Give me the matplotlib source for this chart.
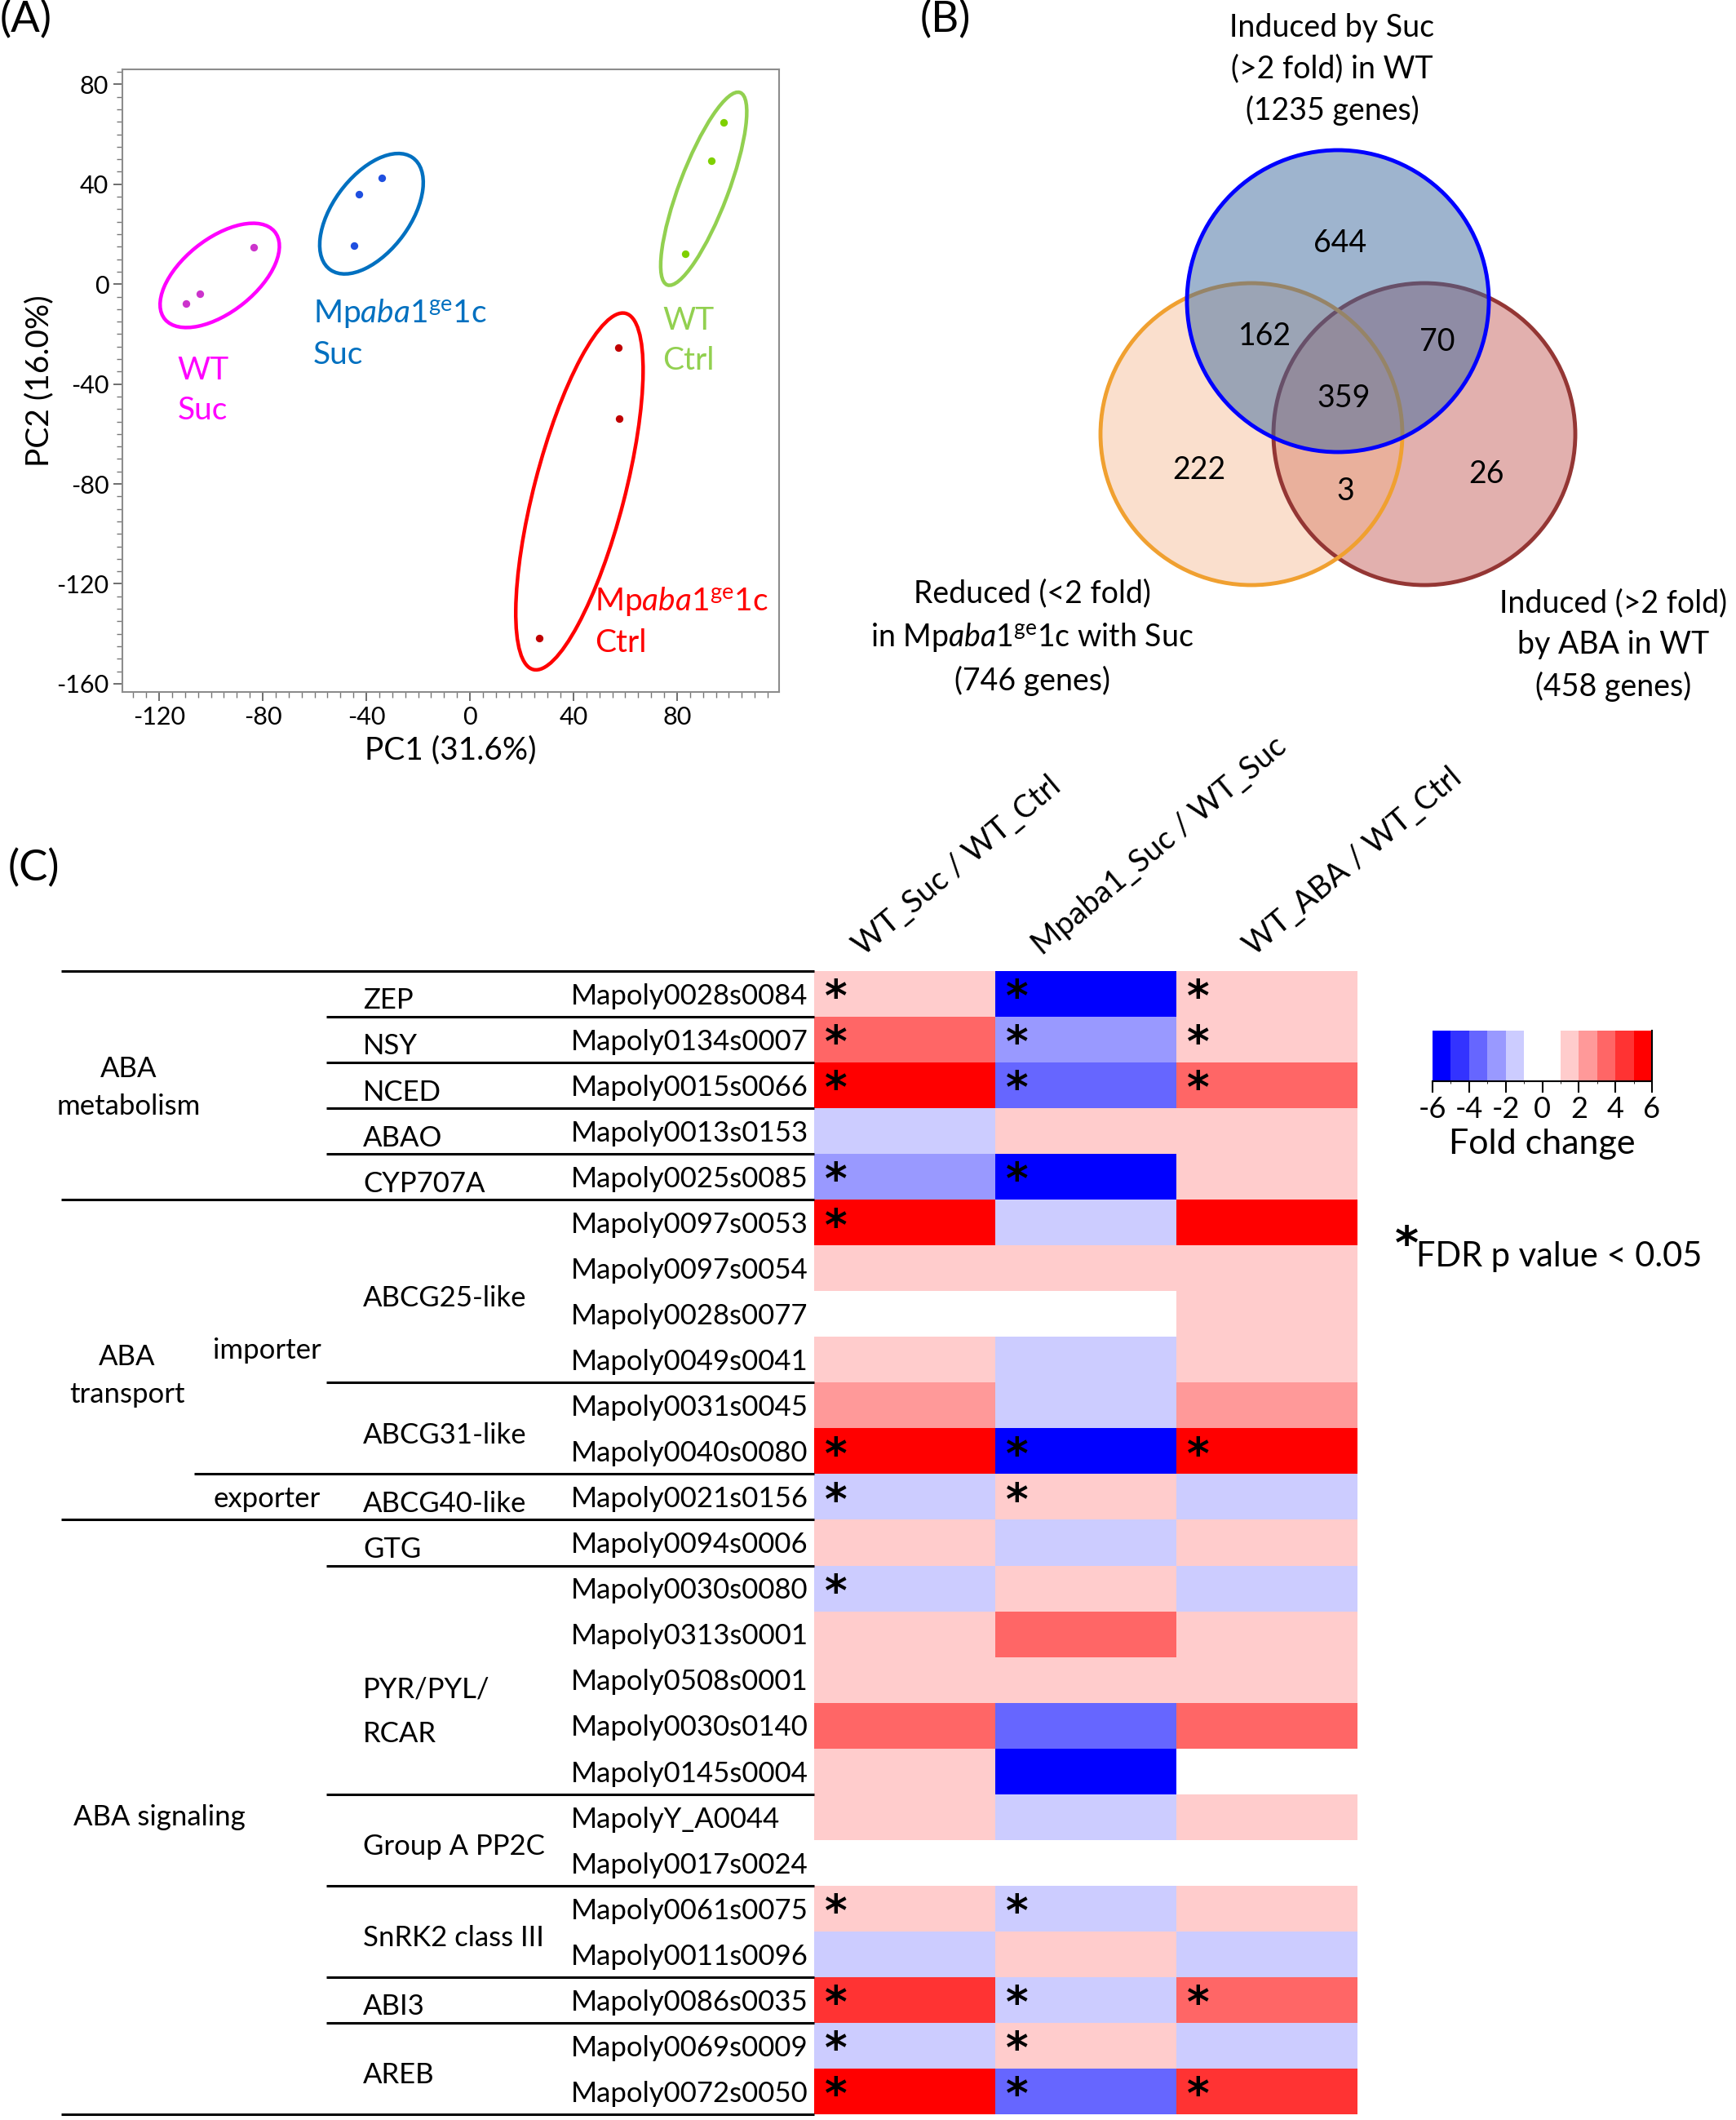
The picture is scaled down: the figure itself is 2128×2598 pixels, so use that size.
import numpy as np
import matplotlib as mpl
import matplotlib.pyplot as plt
from matplotlib.patches import Ellipse, Circle
from matplotlib.colors import ListedColormap, BoundaryNorm
from matplotlib.ticker import MultipleLocator

plt.rcParams['font.family'] = ['Lato', 'DejaVu Sans']
plt.rcParams['mathtext.fontset'] = 'custom'
plt.rcParams['mathtext.rm'] = 'Lato'
plt.rcParams['mathtext.it'] = 'Lato:italic'
plt.rcParams['mathtext.bf'] = 'Lato:bold'
plt.rcParams['axes.unicode_minus'] = False

W, H = 2128, 2598
MP = r'Mp$\mathit{aba1}^{\mathrm{ge}}$1c'

# ---------------- (A) PCA data ----------------
pc1 = [[-109.5, -104.3, -83.5],    # WT Suc
       [-42.8, -34.1, -44.8],      # Mpaba1 Suc
       [98.1, 93.1, 83.2],         # WT Ctrl
       [57.4, 57.8, 26.8]]         # Mpaba1 Ctrl
pc2 = [[-7.9, -3.9, 14.7],
       [35.9, 42.6, 15.3],
       [64.9, 49.3, 12.3],
       [-25.5, -54.0, -141.6]]
ell_center = [(-96.6, 3.5), (-38.0, 28.2), (90.3, 38.2), (42.3, -83.0)]
ell_width = [55, 55, 82, 147]
ell_height = [29, 30, 19, 35]
ell_angle = [40, 55, 70, 76]
group_labels = ['WT\nSuc', MP + '\nSuc', 'WT\nCtrl', MP + '\nCtrl']
label_xy = [(-112.9, -42.5), (-60.5, -19.6), (74.5, -22.7), (48.3, -135.0)]
line_colors = ['#FF00FF', '#0070C0', '#92D050', '#FF0000']
dot_colors = ['#CC33CC', '#1F4FE0', '#7FD000', '#C00000']

# ---------------- (B) Venn data ----------------
venn_counts = [644, 162, 70, 359, 222, 3, 26]
venn_xy = [(1643, 298), (1551, 412), (1762, 419), (1647, 488),
           (1470, 576), (1649, 602), (1822, 581)]
set_labels = ['Induced by Suc\n(>2 fold) in WT\n(1235 genes)',
              'Reduced (<2 fold)\nin ' + MP + ' with Suc\n(746 genes)',
              'Induced (>2 fold)\nby ABA in WT\n(458 genes)']

# ---------------- (C) heatmap data ----------------
comparisons = ['WT_Suc / WT_Ctrl', 'Mpaba1_Suc / WT_Suc', 'WT_ABA / WT_Ctrl']
genes = ['Mapoly0028s0084', 'Mapoly0134s0007', 'Mapoly0015s0066', 'Mapoly0013s0153',
         'Mapoly0025s0085', 'Mapoly0097s0053', 'Mapoly0097s0054', 'Mapoly0028s0077',
         'Mapoly0049s0041', 'Mapoly0031s0045', 'Mapoly0040s0080', 'Mapoly0021s0156',
         'Mapoly0094s0006', 'Mapoly0030s0080', 'Mapoly0313s0001', 'Mapoly0508s0001',
         'Mapoly0030s0140', 'Mapoly0145s0004', 'MapolyY_A0044', 'Mapoly0017s0024',
         'Mapoly0061s0075', 'Mapoly0011s0096', 'Mapoly0086s0035', 'Mapoly0069s0009',
         'Mapoly0072s0050']
fold = np.array([
    [1.5, -5.5, 1.5], [3.5, -2.5, 1.5], [5.5, -3.5, 3.5], [-1.5, 1.5, 1.5],
    [-2.5, -5.5, 1.5], [5.5, -1.5, 5.5], [1.5, 1.5, 1.5], [0, 0, 1.5],
    [1.5, -1.5, 1.5], [2.5, -1.5, 2.5], [5.5, -5.5, 5.5], [-1.5, 1.5, -1.5],
    [1.5, -1.5, 1.5], [-1.5, 1.5, -1.5], [1.5, 3.5, 1.5], [1.5, 1.5, 1.5],
    [3.5, -3.5, 3.5], [1.5, -5.5, 0], [1.5, -1.5, 1.5], [0, 0, 0],
    [1.5, -1.5, 1.5], [-1.5, 1.5, -1.5], [4.5, -1.5, 3.5], [-1.5, 1.5, -1.5],
    [5.5, -3.5, 4.5]])
signif = np.array([
    [1, 1, 1], [1, 1, 1], [1, 1, 1], [0, 0, 0], [1, 1, 0], [1, 0, 0], [0, 0, 0],
    [0, 0, 0], [0, 0, 0], [0, 0, 0], [1, 1, 1], [1, 1, 0], [0, 0, 0], [1, 0, 0],
    [0, 0, 0], [0, 0, 0], [0, 0, 0], [0, 0, 0], [0, 0, 0], [0, 0, 0], [1, 1, 0],
    [0, 0, 0], [1, 1, 1], [1, 1, 0], [1, 1, 1]])
families = ['ZEP', 'NSY', 'NCED', 'ABAO', 'CYP707A', 'ABCG25-like', 'ABCG31-like',
            'ABCG40-like', 'GTG', 'PYR/PYL/\nRCAR', 'Group A PP2C', 'SnRK2 class III',
            'ABI3', 'AREB']
family_sizes = [1, 1, 1, 1, 1, 4, 2, 1, 1, 5, 2, 2, 1, 2]
subgroups = ['importer', 'exporter']
subgroup_rows = [(5, 11), (11, 12)]
categories = ['ABA\nmetabolism', 'ABA\ntransport', 'ABA signaling']
category_rows = [(0, 5), (5, 12), (12, 25)]
level_bounds = [-6, -5, -4, -3, -2, -1, 1, 2, 3, 4, 5, 6]
level_colors = ['#0000FF', '#3333FF', '#6666FF', '#9999FF', '#CCCCFF', '#FFFFFF',
                '#FFCCCC', '#FF9999', '#FF6666', '#FF3333', '#FF0000']

fig = plt.figure(figsize=(W / 100, H / 100), dpi=100)


def fax(x0, y0, x1, y1):
    # axes from pixel box (top-left origin)
    return fig.add_axes([x0 / W, 1 - y1 / H, (x1 - x0) / W, (y1 - y0) / H])


# ---------------- (A) ----------------
ax = fax(150, 85, 955, 848)
for i in range(4):
    ax.add_patch(Ellipse(ell_center[i], ell_width[i], ell_height[i], angle=ell_angle[i],
                         fill=False, ec=line_colors[i], lw=3.2))
    ax.scatter(pc1[i], pc2[i], s=45, color=dot_colors[i], zorder=3, lw=0)
    ax.text(label_xy[i][0], label_xy[i][1], group_labels[i], color=line_colors[i],
            fontsize=28, ha='left', va='center', linespacing=1.45)
ax.set_xlim(-134.2, 119.4)
ax.set_ylim(-163.3, 86)
ax.set_xticks(range(-120, 81, 40))
ax.set_yticks(range(-160, 81, 40))
ax.xaxis.set_minor_locator(MultipleLocator(5))
ax.yaxis.set_minor_locator(MultipleLocator(5))
ax.tick_params(which='major', direction='out', length=8, width=1.2, color='#555555',
               labelsize=22, pad=4)
ax.tick_params(which='minor', direction='out', length=5, width=1, color='#777777')
for s in ax.spines.values():
    s.set_color('#8C8C8C')
    s.set_linewidth(1.5)
ax.set_xlabel('PC1 (31.6%)', fontsize=28, labelpad=6)
ax.set_ylabel('PC2 (16.0%)', fontsize=28, labelpad=2)

# ---------------- (B) ----------------
vx = fax(1000, 0, 2128, 900)
vx.set_xlim(1000, 2128)
vx.set_ylim(900, 0)
vx.axis('off')
vx.add_patch(Circle((1746, 532), 185, fc='#C0504D', alpha=0.45, lw=0))
vx.add_patch(Circle((1534, 532), 185, fc='#F4B183', alpha=0.4, lw=0))
vx.add_patch(Circle((1746, 532), 185, fill=False, ec='#943634', lw=3.5))
vx.add_patch(Circle((1534, 532), 185, fill=False, ec='#F0A030', lw=3.5))
vx.add_patch(Circle((1640, 369), 185, fc='#3E6A9E', alpha=0.5, lw=0))
vx.add_patch(Circle((1640, 369), 185, fill=False, ec='#0000FF', lw=3.5))
for n, (x, y) in zip(venn_counts, venn_xy):
    vx.text(x, y, str(n), fontsize=27, ha='center', va='center')
vx.text(1633, 85, set_labels[0], fontsize=27, ha='center', va='center', linespacing=1.5)
vx.text(1265, 781, set_labels[1], fontsize=27, ha='center', va='center', linespacing=1.5)
vx.text(1978, 791, set_labels[2], fontsize=27, ha='center', va='center', linespacing=1.5)

# ---------------- (C) ----------------
hx0, hx1 = 998, 1664
hm = fax(hx0, 1190, hx1, 2591)
cmap = ListedColormap(level_colors)
norm = BoundaryNorm(level_bounds, cmap.N)
nrow = len(genes)
hm.pcolormesh(np.arange(4), np.arange(nrow + 1), fold, cmap=cmap, norm=norm)
hm.set_xlim(0, 3)
hm.set_ylim(nrow, 0)
hm.axis('off')
for r in range(nrow):
    for c in range(3):
        if signif[r, c]:
            hm.text(c + 0.06, r + 0.88, '*', fontsize=38, fontweight='bold',
                    family='DejaVu Sans', ha='left', va='baseline')

header_off = [0.27, 0.26, 0.43]
for c, name in enumerate(comparisons):
    hm.text(c + header_off[c], -0.32, name, fontsize=27.5, rotation=40,
            rotation_mode='anchor', ha='left', va='baseline', clip_on=False)

tr = hm.get_yaxis_transform()


def ax_x(px):
    return (px - hx0) / (hx1 - hx0)


def hline(row, px_start):
    hm.plot([ax_x(px_start), 0], [row, row], color='black', lw=2.2,
            transform=tr, clip_on=False, solid_capstyle='butt')


for r, g in enumerate(genes):
    hm.text(ax_x(700), r + 0.55, g, fontsize=25, ha='left', va='center',
            transform=tr, clip_on=False)

start = 0
for name, size in zip(families, family_sizes):
    mid = start + size / 2 + (0.7 if '\n' in name else 0.15)
    hm.text(ax_x(445), mid, name, fontsize=25, ha='left', va='center',
            transform=tr, clip_on=False, linespacing=1.85)
    start += size
    if start not in (5, 11, 12, 25):
        hline(start, 400)

subgroup_y = [8.3, 11.55]
for name, y in zip(subgroups, subgroup_y):
    hm.text(ax_x(327), y, name, fontsize=25, ha='center', va='center',
            transform=tr, clip_on=False)
hline(11, 238)

cat_x = [158, 156, 195]
cat_y = [2.55, 8.85, 18.5]
for name, x, y in zip(categories, cat_x, cat_y):
    hm.text(ax_x(x), y, name, fontsize=25, ha='center', va='center',
            transform=tr, clip_on=False, linespacing=1.52)
for b in [0, 5, 12, 25]:
    hline(b, 75)

# colour key
cax = fax(1756, 1263, 2025, 1325)
cb = mpl.colorbar.ColorbarBase(cax, cmap=cmap, norm=norm, orientation='horizontal',
                               ticks=[-6, -4, -2, 0, 2, 4, 6], spacing='proportional')
cb.outline.set_visible(False)
cax.tick_params(labelsize=26, length=10, width=1.5, pad=3)
cax.plot([0, 1, 1], [0, 0, 1], color='black', lw=1.5, transform=cax.transAxes,
         clip_on=False)
cb.set_label('Fold change', fontsize=31, labelpad=5)

fig.text(1710 / W, 1 - 1542 / H, '*', fontsize=40, fontweight='bold',
         family='DejaVu Sans', ha='left', va='baseline')
fig.text(1736 / W, 1 - 1540 / H, 'FDR p value < 0.05', fontsize=30, ha='left',
         va='center')

# panel letters
fig.text(0 / W, 1 - 0 / H, '(A)', fontsize=38, ha='left', va='top')
fig.text(1128 / W, 1 - 0 / H, '(B)', fontsize=38, ha='left', va='top')
fig.text(10 / W, 1 - 1040 / H, '(C)', fontsize=38, ha='left', va='top')

fig.savefig('out.png', dpi=100)
